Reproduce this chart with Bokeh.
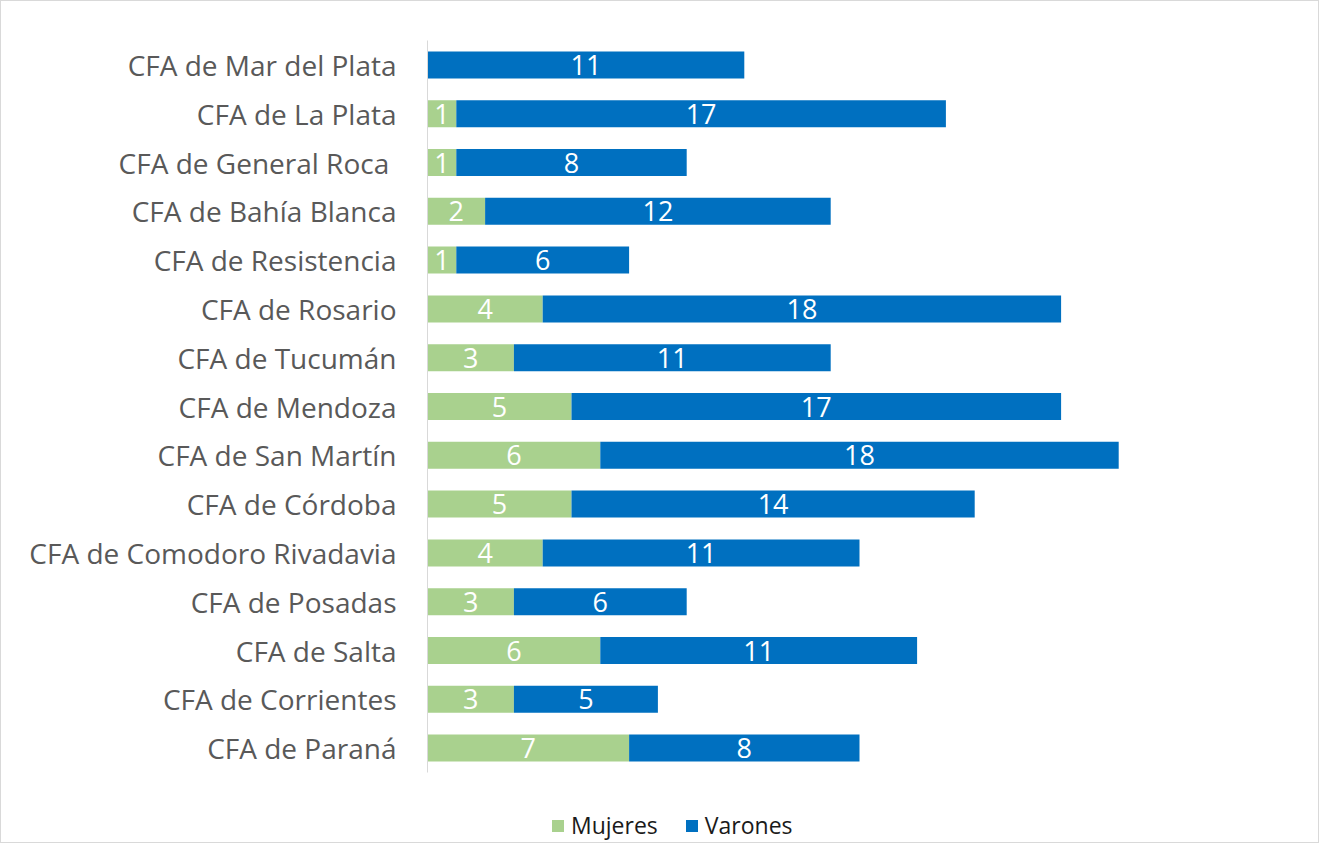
from bokeh.plotting import figure
from bokeh.models import (ColumnDataSource, Range1d, LabelSet, Legend,
                          LegendItem, FixedTicker)
from bokeh.core.properties import value
from bokeh.embed import file_html
from bokeh.resources import INLINE

# ---- data (top to bottom as shown) ----
categories = [
    "CFA de Mar del Plata",
    "CFA de La Plata",
    "CFA de General Roca ",
    "CFA de Bahía Blanca",
    "CFA de Resistencia",
    "CFA de Rosario",
    "CFA de Tucumán",
    "CFA de Mendoza",
    "CFA de San Martín",
    "CFA de Córdoba",
    "CFA de Comodoro Rivadavia",
    "CFA de Posadas",
    "CFA de Salta",
    "CFA de Corrientes",
    "CFA de Paraná",
]
mujeres = [0, 1, 1, 2, 1, 4, 3, 5, 6, 5, 4, 3, 6, 3, 7]
varones = [11, 17, 8, 12, 6, 18, 11, 17, 18, 14, 11, 6, 11, 5, 8]
series_names = ["Mujeres", "Varones"]

GREEN = "#A9D18E"
BLUE = "#0070C0"
FONT = "Open Sans"

# ---- layout constants (pixels) ----
W, H = 1319, 843
BORDER_L, BORDER_T, BORDER_R = 426, 39, 29
BAND = 48.8  # px per category

n = len(categories)
ypos = [n - 1 - i for i in range(n)]  # first category at top

left_v = list(mujeres)
right_v = [m + v for m, v in zip(mujeres, varones)]

src_m = ColumnDataSource(dict(y=ypos, left=[0] * n, right=mujeres))
src_v = ColumnDataSource(dict(y=ypos, left=left_v, right=right_v))

lab_x, lab_y, lab_t = [], [], []
for yy, m, v in zip(ypos, mujeres, varones):
    if m > 0:
        lab_x.append(m / 2.0); lab_y.append(yy); lab_t.append(str(m))
    if v > 0:
        lab_x.append(m + v / 2.0); lab_y.append(yy); lab_t.append(str(v))
src_lab = ColumnDataSource(dict(x=lab_x, y=lab_y, t=lab_t))

frame_h = H - BORDER_T
y_top = n - 0.5
y_bottom = y_top - frame_h / BAND

p = figure(
    width=W, height=H,
    y_range=Range1d(y_bottom, y_top),
    x_range=Range1d(0, 30),
    output_backend="svg", toolbar_location=None,
    min_border_left=BORDER_L, min_border_right=BORDER_R,
    min_border_top=BORDER_T, min_border_bottom=0,
)
p.styles = {"border": "1px solid #d9d9d9"}

r_m = p.hbar(y="y", left="left", right="right", height=0.553, source=src_m,
             fill_color=GREEN, line_color=None)
r_v = p.hbar(y="y", left="left", right="right", height=0.553, source=src_v,
             fill_color=BLUE, line_color=None)

labels = LabelSet(x="x", y="y", text="t", source=src_lab,
                  text_color="white", text_font=value(FONT),
                  text_font_size="27px",
                  text_align="center", text_baseline="middle")
p.add_layout(labels)

p.xaxis.visible = False
p.xgrid.grid_line_color = None
p.ygrid.grid_line_color = None
p.outline_line_color = None

ya = p.yaxis[0]
ya.ticker = FixedTicker(ticks=ypos)
ya.major_label_overrides = {yy: c for yy, c in zip(ypos, categories)}
ya.bounds = (-0.5, n - 0.5)
ya.axis_line_color = "#D9D9D9"
ya.axis_line_width = 1
ya.major_tick_line_color = None
ya.minor_tick_line_color = None
ya.major_tick_out = 0
ya.major_tick_in = 0
ya.minor_tick_out = 0
ya.minor_tick_in = 0
ya.major_label_standoff = 31
ya.major_label_text_font = FONT
ya.major_label_text_font_size = "28px"
ya.major_label_text_color = "#595959"

legend = Legend(
    items=[LegendItem(label=series_names[0], renderers=[r_m]),
           LegendItem(label=series_names[1], renderers=[r_v])],
    orientation="horizontal",
    location=(123, 3),
    glyph_width=15, glyph_height=15,
    label_standoff=6, spacing=26,
    padding=0, margin=0,
    border_line_color=None, background_fill_alpha=0,
    label_text_font=FONT, label_text_font_size="23px",
    label_text_color="#1a1a1a",
)
p.add_layout(legend, "center")

open("out.html", "w").write(file_html(p, INLINE))
